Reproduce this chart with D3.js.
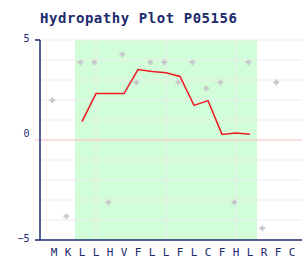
<!DOCTYPE html>
<html>
<head>
<meta charset="utf-8">
<script src="https://cdn.jsdelivr.net/npm/d3@7"></script>
<style>
  body { margin: 0; background: #fff; }
  text { font-family: "DejaVu Sans Mono", monospace; fill: #1c2a6e; }
</style>
</head>
<body>
<div id="chart"></div>
<script>
// residue letters along the x axis
var residues = ['M','K','L','L','H','V','F','L','L','F','L','C','F','H','L','R','F','C'];
// Kyte-Doolittle value per residue (grey markers)
var kdValues = [1.9,-3.9,3.8,3.8,-3.2,4.2,2.8,3.8,3.8,2.8,3.8,2.5,2.8,-3.2,3.8,-4.5,2.8];
// window average (red line), starting at residue index 2
var avgStart = 2;
var avgValues = [0.92,2.32,2.32,2.32,3.52,3.43,3.36,3.18,1.73,1.97,0.28,0.35,0.29];
// highlighted (green) residue range
var regionFrom = 2, regionTo = 14;
var yTicks = [5, 0, -5];
var vGrid = [3, 8, 13];

var width = 302, height = 260;
var navy = '#1c2a6e';

var svg = d3.select('#chart').append('svg')
  .attr('width', width).attr('height', height);

var x = d3.scaleLinear().domain([-1, 0]).range([40, 54]);
var y = d3.scaleLinear().domain([-5, 5]).range([240, 40]);

// title
svg.append('text')
  .attr('x', 40).attr('y', 23)
  .style('font-size', '14px').style('font-weight', 'bold')
  .style('letter-spacing', '0.55px')
  .text('Hydropathy Plot P05156');

// green region
svg.append('rect')
  .attr('x', x(regionFrom - 0.5)).attr('y', y(5))
  .attr('width', x(regionTo + 0.5) - x(regionFrom - 0.5))
  .attr('height', y(-5) - y(5))
  .attr('fill', '#d2fdd9');

// grid
svg.selectAll('.hgrid')
  .data(d3.range(-4, 6))
  .enter().append('line')
  .attr('x1', 40).attr('x2', width)
  .attr('y1', function (d) { return y(d); })
  .attr('y2', function (d) { return y(d); })
  .attr('stroke', '#ebebeb').attr('stroke-width', 1);

svg.selectAll('.vgrid')
  .data(vGrid)
  .enter().append('line')
  .attr('x1', function (d) { return x(d); })
  .attr('x2', function (d) { return x(d); })
  .attr('y1', y(5)).attr('y2', y(-5))
  .attr('stroke', '#ebebeb').attr('stroke-width', 1);

// zero line
svg.append('line')
  .attr('x1', 35).attr('x2', width)
  .attr('y1', y(0)).attr('y2', y(0))
  .attr('stroke', '#ffc4c4').attr('stroke-width', 1);

// residue markers
svg.selectAll('.pt')
  .data(kdValues)
  .enter().append('path')
  .attr('d', d3.symbol().type(d3.symbolCross).size(18))
  .attr('transform', function (d, i) {
    return 'translate(' + (x(i) - 1.7) + ',' + (y(d) - 1.7) + ')';
  })
  .attr('fill', '#c4c4c8');

// window average line
var line = d3.line()
  .x(function (d, i) { return x(i + avgStart); })
  .y(function (d) { return y(d); });

svg.append('path')
  .datum(avgValues)
  .attr('d', line)
  .attr('fill', 'none')
  .attr('stroke', '#ec1c24')
  .attr('stroke-width', 1.5);

// axes
svg.append('line')
  .attr('x1', 40).attr('x2', 40)
  .attr('y1', y(5)).attr('y2', y(-5))
  .attr('stroke', navy).attr('stroke-width', 1.5);
svg.append('line')
  .attr('x1', 35).attr('x2', width)
  .attr('y1', y(-5)).attr('y2', y(-5))
  .attr('stroke', navy).attr('stroke-width', 1.5);
svg.append('line')
  .attr('x1', 35).attr('x2', 40)
  .attr('y1', y(5)).attr('y2', y(5))
  .attr('stroke', navy).attr('stroke-width', 1.5);

svg.selectAll('.ylab')
  .data(yTicks)
  .enter().append('text')
  .attr('x', 29.5)
  .attr('y', function (d) { return y(d) + (d === 0 ? -3.5 : 1.5); })
  .attr('text-anchor', 'end')
  .style('font-size', '10px')
  .text(function (d) { return d < 0 ? '\u2212' + Math.abs(d) : d; });

svg.selectAll('.xlab')
  .data(residues)
  .enter().append('text')
  .attr('x', function (d, i) { return x(i); })
  .attr('y', 256)
  .attr('text-anchor', 'middle')
  .style('font-size', '11px')
  .text(function (d) { return d; });
</script>
</body>
</html>
